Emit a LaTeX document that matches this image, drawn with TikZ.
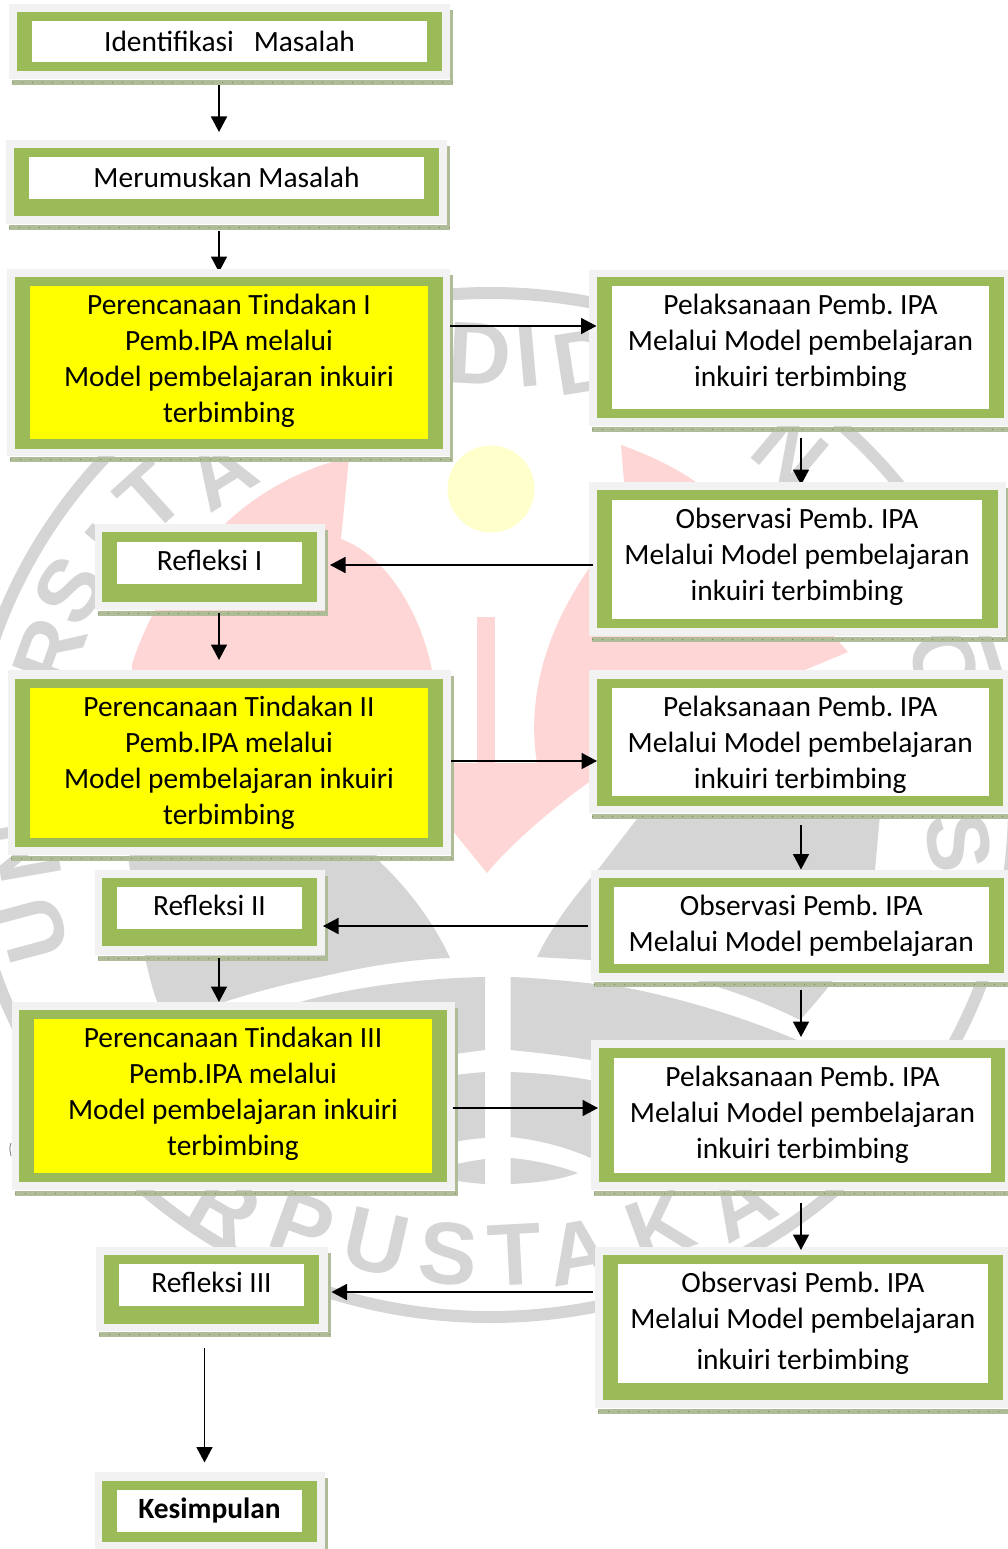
\documentclass[tikz,border=0pt]{standalone}
\usepackage{fontspec}
\setmainfont{Carlito}
\newfontfamily\wmfont{Liberation Sans}
\usetikzlibrary{arrows.meta}
\definecolor{leaf}{HTML}{9BBB59}
\definecolor{halo}{HTML}{F2F2F2}
\definecolor{hatchc}{HTML}{AFBC97}
\definecolor{tickc}{HTML}{76875A}
\definecolor{wmgray}{HTML}{D6D5D5}
\definecolor{wmpink}{HTML}{FFD6D6}
\definecolor{wmyellow}{HTML}{FFFFCC}
\definecolor{pureyellow}{HTML}{FFFF00}
\pgfdeclarelayer{wm}
\pgfdeclarelayer{under}
\pgfsetlayers{wm,under,main}
\tikzset{
  panebase/.style={inner sep=0pt,outer sep=0pt,draw=none},
  halobox/.style={panebase,fill=halo},
  leafbox/.style={panebase,fill=leaf},
  whitebox/.style={panebase,fill=white},
  yellowbox/.style={panebase,fill=pureyellow},
  lbl/.style={inner sep=0pt,outer sep=0pt,align=center,anchor=north,font=\fontsize{29.4}{36}\selectfont},
  arr/.style={-{Triangle[length=15.5pt,width=16pt]},line width=1.7pt,black},
  hatchfill/.style={fill=hatchc},
  tick/.style={draw=tickc,line width=1.2pt,dash pattern=on 1pt off 9pt},
  wmltr/.style={text=wmgray,font=\wmfont\bfseries\fontsize{88}{88}\selectfont,inner sep=0pt},
}
\frenchspacing
\def\lblshift{-3.5}
\def\panei#1#2#3,#4,#5,#6\relax{\node[#1,minimum width={#5pt-#3pt},minimum height={#6pt-#4pt}] (#2) at ({(#3+#5)/2},{(#4+#6)/2}) {};}
\newcommand\pane[3]{\panei{#1}{#2}#3\relax}
% name, halo, leaf, inner, inner style, text
\newcommand\flowbox[6]{%
  \pane{halobox}{#1g}{#2}\pane{leafbox}{#1l}{#3}\pane{#5}{#1}{#4}%
  \fill[hatchfill] ([shift={(3,1)}]#1g.south west) rectangle ([shift={(3,6)}]#1g.south east);
  \fill[hatchfill] ([shift={(0,6)}]#1g.north east) rectangle ([shift={(3,6)}]#1g.south east);
  \draw[tick] ([shift={(3,3.5)}]#1g.south west) -- ([shift={(3,3.5)}]#1g.south east);
  \node[lbl] (#1t) at ([yshift=\lblshift pt]#1.north) {\strut#6\strut};%
}
\newcommand\conn[5][arr]{\draw[#1] ([shift={(#3)}]#2) -- ([shift={(#5)}]#4);}
\begin{document}
\begin{tikzpicture}[x=1pt,y=-1pt]
\useasboundingbox (0,0) rectangle (1008,1549);
\clip (0,0) rectangle (1008,1549);
\begin{pgfonlayer}{wm}
  % ring
  \draw[wmgray,line width=12pt] (490,805) ellipse [x radius=524,y radius=512];
  % pink figure
  \fill[wmpink] (349,458) -- (341,539) .. controls (385,555) and (420,610) .. (432,670) -- (432,700) -- (132,700) -- (132,664) .. controls (150,610) and (180,560) .. (225,524) .. controls (260,490) and (310,465) .. (349,458) -- cycle;
  \fill[wmpink] (621,445) .. controls (650,455) and (680,470) .. (700,485) -- (848,652) -- (800,672) -- (592,690) -- (592,780) .. controls (550,810) and (510,845) .. (487,873) -- (452,830) -- (452,763) -- (537,763) .. controls (530,720) and (532,650) .. (590,567) -- (624,482) -- cycle;
  \fill[wmpink] (477,617) rectangle (495,765);
  \fill[wmyellow] (491,489) ellipse [x radius=43.5,y radius=43.5];
  % grey figure
  \fill[wmgray] (135,850) -- (375,850) -- (378,860) .. controls (410,890) and (435,925) .. (450,958) .. controls (400,960) and (360,968) .. (320,977) .. controls (280,985) and (245,995) .. (218,1004) -- (158,1004) .. controls (145,970) and (138,920) .. (128,857) -- cycle;
  \fill[wmgray] (640,815) -- (880,815) -- (875,870) .. controls (870,930) and (850,965) .. (800,1020) .. controls (760,1000) and (700,975) .. (590,960) -- (537,957) .. controls (555,920) and (580,890) .. (600,867) -- cycle;
  \fill[wmgray] (300,1002) .. controls (360,985) and (430,978) .. (485,977) -- (485,1050) -- (440,1056) -- (300,1056) -- cycle;
  \fill[wmgray] (510.5,977) .. controls (540,978) and (580,982) .. (623,987) .. controls (690,1000) and (750,1020) .. (797,1040) -- (797,1050) -- (590,1060) .. controls (560,1055) and (530,1052) .. (510.5,1050) -- cycle;
  \fill[wmgray] (440,1077) .. controls (455,1075) and (470,1073) .. (485,1072) -- (485,1138) .. controls (470,1139) and (455,1141) .. (440,1146) -- cycle;
  \fill[wmgray] (510.5,1072) .. controls (540,1073) and (570,1076) .. (595,1081) -- (595,1160) .. controls (570,1148) and (540,1140) .. (510.5,1137) -- cycle;
  \fill[wmgray] (440,1168) .. controls (455,1164) and (470,1161) .. (485,1159) -- (485,1184) .. controls (470,1183) and (455,1181) .. (440,1178) -- cycle;
  \fill[wmgray] (510.5,1158) .. controls (535,1160) and (560,1166) .. (578,1173) .. controls (560,1180) and (535,1183) .. (510.5,1184) -- cycle;
  \fill[wmgray] (885,1037.5) arc[start angle=180,end angle=0,radius=21.5] -- (928,1045) -- (885,1045) -- cycle;
  \draw[black!45,line width=1pt] (11,1143) .. controls (9.5,1148) .. (11,1156);
  % letters
  \node[wmltr,rotate=-3] (wd1) at (480,354) {D};
  \node[wmltr,rotate=5] (wi) at (528,356) {I};
  \node[wmltr,rotate=9] (wd2) at (585,362) {D};
  \node[wmltr,rotate=-40] (wn) at (790,452) {N};
  \node[wmltr,rotate=42] (wt) at (150,497) {T};
  \node[wmltr,rotate=32] (wa) at (220,472) {A};
  \node[wmltr,rotate=50] (wi2) at (112,548) {I};
  \node[wmltr,rotate=57] (ws) at (70,590) {S};
  \node[wmltr,rotate=70] (wr) at (50,652) {R};
  \node[wmltr,rotate=105] (wu) at (33,930) {U};
  \node[wmltr,rotate=100] (wnn) at (27,850) {N};
  \node[wmltr,rotate=-75] (wc) at (945,665) {O};
  \node[wmltr,rotate=-82] (wss) at (959,842) {S};
  \node[wmltr,rotate=-30] (pr) at (225,1208) {R};
  \node[wmltr,rotate=-20] (pp) at (302,1226) {P};
  \node[wmltr,rotate=-13] (pu) at (376,1243) {U};
  \node[wmltr,rotate=-5] (ps) at (448,1254) {S};
  \node[wmltr,rotate=3] (pt) at (515,1255) {T};
  \node[wmltr,rotate=10] (pa) at (580,1252) {A};
  \node[wmltr,rotate=20] (pk) at (660,1226) {K};
  \node[wmltr,rotate=30] (pb) at (740,1203) {A};
\end{pgfonlayer}
\def\lblshift{-5}
\flowbox{a}{9,4,450,79}{17,12,442,71.5}{32,21,427,62}{whitebox}{Identifikasi\ \ \ Masalah}
\flowbox{b}{6,140,447,224}{14,148,439,216}{29,157,424,199}{whitebox}{Merumuskan Masalah}
\def\lblshift{-3.5}
\flowbox{c}{7,269,450,456}{15,277,443,449}{30,286,428,439}{yellowbox}{Perencanaan Tindakan I\\Pemb.IPA melalui\\Model pembelajaran inkuiri\\terbimbing}
\flowbox{d}{589,269.5,1012,426}{597,277,1004,418}{612,286,989,409}{whitebox}{Pelaksanaan Pemb. IPA\\Melalui Model pembelajaran\\inkuiri terbimbing}
\flowbox{e}{589,482,1006,636}{597,490,998,628}{612,500,982,619}{whitebox}{Observasi Pemb. IPA\\Melalui Model pembelajaran\\inkuiri terbimbing}
\flowbox{f}{94.5,524,324.5,610}{102,532,317,601.5}{117,542,302,584}{whitebox}{Refleksi I}
\flowbox{g}{8,670,451,855}{15,678.5,443,847}{30,688,428,838}{yellowbox}{Perencanaan Tindakan II\\Pemb.IPA melalui\\Model pembelajaran inkuiri\\terbimbing}
\flowbox{h}{589,670,1012,813}{597,678.5,1003,805.5}{612,688,988.5,795.5}{whitebox}{Pelaksanaan Pemb. IPA\\Melalui Model pembelajaran\\inkuiri terbimbing}
\flowbox{i}{590.5,869.5,1012,981}{599,878,1004,973}{614,887,988.5,963.5}{whitebox}{Observasi Pemb. IPA\\Melalui Model pembelajaran}
\flowbox{j}{94.5,869.5,324.5,955}{102,878,317,946}{117,887,302,929}{whitebox}{Refleksi II}
\flowbox{k}{11.5,1002,455,1190}{19,1010,447,1182}{34,1019,432,1172.7}{yellowbox}{Perencanaan Tindakan III\\Pemb.IPA melalui\\Model pembelajaran inkuiri\\terbimbing}
\flowbox{l}{590.5,1040,1012,1190}{599,1048,1005,1182}{614,1058,991,1172.7}{whitebox}{Pelaksanaan Pemb. IPA\\Melalui Model pembelajaran\\inkuiri terbimbing}
\flowbox{m}{96,1247,328,1331}{104,1254.7,319,1324}{119,1264,304,1306}{whitebox}{Refleksi III}
\flowbox{n}{595,1247,1012,1408}{603,1254.7,1003,1400}{617.6,1264,988,1383}{whitebox}{Observasi Pemb. IPA\\Melalui Model pembelajaran\\[5pt]inkuiri terbimbing}
\flowbox{o}{94.5,1472,324.5,1556}{102,1480.7,317,1542.4}{117,1490,302,1531.5}{whitebox}{\textbf{Kesimpulan}}
\begin{pgfonlayer}{under}
  \conn{bg.south}{-7.5,7}{cg.north}{-9.5,3}
  \conn{dg.south}{0.5,12}{eg.north}{3.5,3}
\end{pgfonlayer}
\conn{ag.south}{-10.5,6}{bg.north}{-7.5,-8}
\conn{cg.east}{0,-36.5}{dg.west}{7.5,-21.75}
\conn{eg.west}{4,6}{fg.east}{5.5,-2}
\conn{fg.south}{9.5,3}{gg.north}{-10.5,-10}
\conn{gg.east}{0,-1.5}{hg.west}{8,19.5}
\conn{hg.south}{0.5,12}{ig.north}{-0.25,0}
\conn{ig.west}{-3,0.75}{jg.east}{-1.5,13.75}
\conn{jg.south}{9.5,3}{kg.north}{-14.25,0}
\conn{ig.south}{-0.25,8.5}{lg.north}{-0.25,-3}
\conn{kg.east}{-2.5,12}{lg.west}{7.5,-7}
\conn{lg.south}{-0.25,12.5}{ng.north}{-2.5,3}
\conn{ng.west}{-2,-35.5}{mg.east}{3.5,3}
\conn{mg.south}{-7.5,17}{og.north}{-5,-9.5}
\end{tikzpicture}
\end{document}
